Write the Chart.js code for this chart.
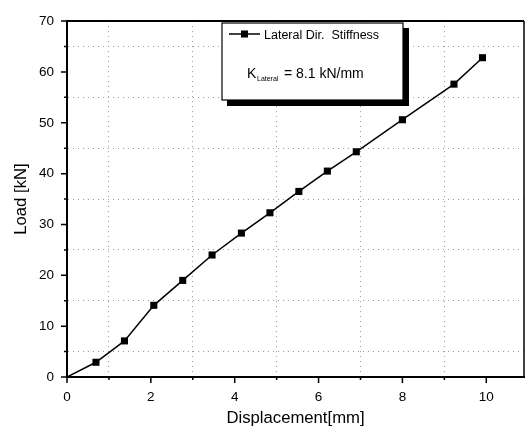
<!DOCTYPE html>
<html>
<head>
<meta charset="utf-8">
<script src="https://cdn.jsdelivr.net/npm/chart.js@4/dist/chart.umd.min.js"></script>
<style>
  html, body { margin: 0; padding: 0; background: #fff; }
  #wrap { width: 529px; height: 430px; }
</style>
</head>
<body>
<div id="wrap"><canvas id="chart" width="529" height="430"></canvas></div>
<script>
// values
const displacement = [0, 0.69, 1.37, 2.07, 2.76, 3.46, 4.16, 4.84, 5.53, 6.21, 6.9, 8.0, 9.23, 9.91];
const load = [0, 2.9, 7.1, 14.1, 19.0, 24.0, 28.3, 32.3, 36.5, 40.5, 44.3, 50.6, 57.6, 62.8];

const xMajorTicks = [0, 2, 4, 6, 8, 10];
const xMinorTicks = [1, 3, 5, 7, 9];
const yMajorTicks = [0, 10, 20, 30, 40, 50, 60, 70];
const yMinorTicks = [5, 15, 25, 35, 45, 55, 65];

const seriesLabel = "Lateral Dir.  Stiffness";
const stiffnessText = ["K", "Lateral", "= 8.1 kN/mm"];

const FONT = "'Liberation Sans', Arial, sans-serif";

const setTicks = (major, minor) => (scale) => {
  scale.ticks = major.concat(minor)
    .sort((a, b) => a - b)
    .map((v) => ({ value: v, major: major.includes(v) }));
};

const minorGrid = (minor) => (ctx) =>
  ctx.tick && minor.includes(ctx.tick.value) ? "#9a9a9a" : "rgba(0,0,0,0)";

// frame, tick marks and the boxed legend
const framePlugin = {
  id: "frame",
  afterDraw(chart) {
    const { ctx, chartArea: a, scales } = chart;
    ctx.save();
    ctx.strokeStyle = "#000";
    ctx.lineCap = "butt";

    // top and right border
    ctx.lineWidth = 2;
    ctx.beginPath();
    ctx.moveTo(a.left, a.top);
    ctx.lineTo(a.right, a.top);
    ctx.stroke();
    ctx.lineWidth = 1.5;
    ctx.beginPath();
    ctx.moveTo(a.right, a.top);
    ctx.lineTo(a.right, a.bottom);
    ctx.stroke();

    // outward tick marks
    ctx.lineWidth = 1.5;
    ctx.beginPath();
    xMajorTicks.forEach((v) => {
      const px = scales.x.getPixelForValue(v);
      ctx.moveTo(px, a.bottom);
      ctx.lineTo(px, a.bottom + 6);
    });
    xMinorTicks.forEach((v) => {
      const px = scales.x.getPixelForValue(v);
      ctx.moveTo(px, a.bottom);
      ctx.lineTo(px, a.bottom + 3);
    });
    yMajorTicks.forEach((v) => {
      const py = scales.y.getPixelForValue(v);
      ctx.moveTo(a.left, py);
      ctx.lineTo(a.left - 6, py);
    });
    yMinorTicks.forEach((v) => {
      const py = scales.y.getPixelForValue(v);
      ctx.moveTo(a.left, py);
      ctx.lineTo(a.left - 3, py);
    });
    ctx.stroke();

    // legend box with drop shadow
    const bx = 222, by = 23, bw = 181, bh = 77;
    ctx.fillStyle = "#000";
    ctx.fillRect(bx + 5, by + 5, bw + 1, bh + 1);
    ctx.fillStyle = "#fff";
    ctx.fillRect(bx, by, bw, bh);
    ctx.lineWidth = 1.2;
    ctx.strokeRect(bx, by, bw, bh);

    const ds = chart.data.datasets[0];
    ctx.strokeStyle = ds.borderColor;
    ctx.lineWidth = ds.borderWidth;
    ctx.beginPath();
    ctx.moveTo(229, 34);
    ctx.lineTo(260, 34);
    ctx.stroke();
    ctx.fillStyle = ds.pointBackgroundColor;
    ctx.fillRect(241, 30.5, 7, 7);

    ctx.fillStyle = "#000";
    ctx.textBaseline = "alphabetic";
    ctx.textAlign = "left";
    ctx.font = "12.5px " + FONT;
    ctx.fillText(ds.label, 264, 38.5);

    ctx.font = "14px " + FONT;
    ctx.fillText(stiffnessText[0], 247, 78);
    ctx.font = "7px " + FONT;
    ctx.fillText(stiffnessText[1], 257, 81);
    ctx.font = "14px " + FONT;
    ctx.fillText(stiffnessText[2], 284, 78);
    ctx.restore();
  },
};

new Chart(document.getElementById("chart"), {
  type: "line",
  data: {
    labels: displacement,
    datasets: [
      {
        label: seriesLabel,
        data: displacement.map((x, i) => ({ x: x, y: load[i] })),
        borderColor: "#000",
        borderWidth: 1.5,
        backgroundColor: "#000",
        pointBackgroundColor: "#000",
        pointBorderColor: "#000",
        pointStyle: "rect",
        pointRadius: (ctx) => (ctx.dataIndex === 0 ? 0 : 5),
        pointBorderWidth: 0,
        tension: 0,
      },
    ],
  },
  options: {
    responsive: false,
    animation: false,
    events: [],
    layout: { padding: { left: 0, right: 1, top: 13, bottom: 0 } },
    plugins: {
      legend: { display: false },
      tooltip: { enabled: false },
    },
    scales: {
      x: {
        type: "linear",
        min: 0,
        max: 10.9,
        afterBuildTicks: setTicks(xMajorTicks, xMinorTicks),
        afterFit: (scale) => { scale.height = 53; },
        grid: { drawTicks: false, color: minorGrid(xMinorTicks), lineWidth: 1 },
        border: { display: true, color: "#000", width: 2, dash: [1, 4] },
        ticks: {
          padding: 12,
          color: "#000",
          font: { family: FONT, size: 13.5 },
          maxRotation: 0,
          autoSkip: false,
          callback: (v) => (xMajorTicks.includes(v) ? v : ""),
        },
        title: {
          display: true,
          text: "Displacement[mm]",
          color: "#000",
          font: { family: FONT, size: 16.7 },
          padding: { top: 0, bottom: 2 },
        },
      },
      y: {
        type: "linear",
        min: 0,
        max: 70,
        afterBuildTicks: setTicks(yMajorTicks, yMinorTicks),
        afterFit: (scale) => { scale.width = 67; },
        grid: { drawTicks: false, color: minorGrid(yMinorTicks), lineWidth: 1 },
        border: { display: true, color: "#000", width: 2, dash: [1, 4] },
        ticks: {
          padding: 13,
          color: "#000",
          font: { family: FONT, size: 13.5 },
          autoSkip: false,
          callback: (v) => (yMajorTicks.includes(v) ? v : ""),
        },
        title: {
          display: true,
          text: "Load [kN]",
          color: "#000",
          font: { family: FONT, size: 16.7 },
          padding: { top: 11, bottom: 0 },
        },
      },
    },
  },
  plugins: [framePlugin],
});
</script>
</body>
</html>
